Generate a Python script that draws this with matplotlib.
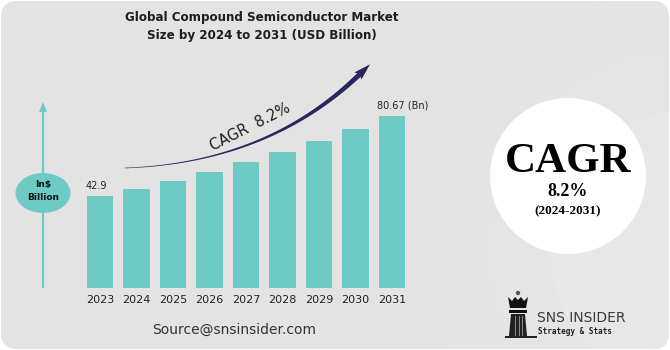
import matplotlib
matplotlib.use("Agg")
import matplotlib.pyplot as plt
import numpy as np
from matplotlib.patches import FancyBboxPatch, Ellipse, Circle, Polygon, Rectangle

years = ["2023", "2024", "2025", "2026", "2027", "2028", "2029", "2030", "2031"]
market_size = [42.9, 46.4, 50.2, 54.4, 59.1, 63.8, 69.0, 74.6, 80.67]
first_label = "42.9"
last_label = "80.67 (Bn)"

W, H = 670, 350
TEAL = "#6ecac4"
NAVY = "#29265e"

fig = plt.figure(figsize=(W / 100, H / 100), dpi=100)
fig.patch.set_facecolor("white")

# background card
bg = fig.add_axes([0, 0, 1, 1], zorder=0)
bg.set_xlim(0, W)
bg.set_ylim(H, 0)
bg.axis("off")
bg.add_patch(FancyBboxPatch((1, 1), W - 2, H - 2, boxstyle="round,pad=0,rounding_size=16",
                            facecolor="#e3e3e3", edgecolor="none"))
for r, a in [(260, 0.07), (200, 0.07), (140, 0.08)]:
    bg.add_patch(Circle((690, 250), r, facecolor="white", alpha=a, edgecolor="none"))

# bars
ax = fig.add_axes([81.75 / W, 62 / H, 328.5 / W, 192 / H], zorder=1)
ax.patch.set_alpha(0)
x = np.arange(len(years))
ax.bar(x, market_size, width=0.72, color=TEAL)
ax.set_xlim(-0.5, len(years) - 0.5)
ax.set_ylim(0, 90)
ax.set_xticks(x)
ax.set_xticklabels(years, fontsize=8, color="#222222")
ax.tick_params(axis="x", length=0, pad=5)
ax.set_yticks([])
for s in ax.spines.values():
    s.set_visible(False)
ax.text(x[0] - 0.1, market_size[0] + 2.5, first_label, ha="center", va="bottom",
        fontsize=7, color="#222222")
ax.text(x[-1] + 0.3, market_size[-1] + 2.5, last_label, ha="center", va="bottom",
        fontsize=7, color="#222222")

# overlay in pixel coords
ov = fig.add_axes([0, 0, 1, 1], zorder=2)
ov.set_xlim(0, W)
ov.set_ylim(H, 0)
ov.axis("off")
ov.patch.set_alpha(0)

ov.text(262, 17, "Global Compound Semiconductor Market", ha="center", va="center",
        fontsize=8.6, fontweight="bold", color="#1e1e1e")
ov.text(262, 36, "Size by 2024 to 2031 (USD Billion)", ha="center", va="center",
        fontsize=8.6, fontweight="bold", color="#1e1e1e")

# growth arrow (tapered curve)
p0, p1, p2 = np.array([125, 168]), np.array([268, 163]), np.array([360, 74])
t = np.linspace(0, 1, 80)[:, None]
pts = (1 - t) ** 2 * p0 + 2 * (1 - t) * t * p1 + t ** 2 * p2
d = 2 * (1 - t) * (p1 - p0) + 2 * t * (p2 - p1)
n = np.column_stack([-d[:, 1], d[:, 0]]) / np.linalg.norm(d, axis=1)[:, None]
hw = 0.3 + 2.2 * t[:, 0] ** 1.5
upper = pts + n * hw[:, None]
lower = pts - n * hw[:, None]
ov.add_patch(Polygon(np.vstack([upper, lower[::-1]]), closed=True, facecolor=NAVY, edgecolor="none"))
u = (p2 - p1) / np.linalg.norm(p2 - p1)
nn = np.array([-u[1], u[0]])
tip = p2 + u * 14
back = p2 - u * 3
ov.add_patch(Polygon([tip, back + nn * 5, p2, back - nn * 5], closed=True,
                     facecolor=NAVY, edgecolor="none"))
ov.text(250, 127, "CAGR  8.2%", ha="center", va="center", rotation=27,
        fontsize=10.5, color="#1e1e1e", rotation_mode="anchor")

# left axis with unit badge
ov.plot([43, 43], [110, 288], color=TEAL, lw=1.6, solid_capstyle="butt")
ov.add_patch(Polygon([[43, 102], [39, 112], [47, 112]], closed=True, facecolor=TEAL, edgecolor="none"))
ov.add_patch(Ellipse((43, 193), 55, 40, facecolor=TEAL, edgecolor="none"))
ov.text(43, 184, "In$", ha="center", va="center", fontsize=6.5, fontweight="bold", color="#111111")
ov.text(43, 198, "Billion", ha="center", va="center", fontsize=6.5, fontweight="bold", color="#111111")

ov.text(234, 330, "Source@snsinsider.com", ha="center", va="center", fontsize=10,
        color="#333333")

# CAGR badge
ov.add_patch(Circle((568, 176), 78, facecolor="white", edgecolor="none"))
ov.text(568, 162, "CAGR", ha="center", va="center", fontsize=31, fontweight="heavy",
        family="Liberation Serif", color="black")
ov.text(568, 192, "8.2%", ha="center", va="center", fontsize=13, fontweight="bold",
        family="Liberation Serif", color="black")
ov.text(568, 211, "(2024-2031)", ha="center", va="center", fontsize=9.5, fontweight="bold",
        family="Liberation Serif", color="black")

# logo
ov.add_patch(Circle((518, 293), 2.2, facecolor="#555555", edgecolor="none"))
ov.add_patch(Polygon([[508, 297], [512, 301], [515, 297], [518, 300], [521, 297], [524, 301],
                      [528, 297], [526, 308], [510, 308]], closed=True,
                     facecolor="#111111", edgecolor="none"))
ov.add_patch(Rectangle((509, 310), 18, 2.5, facecolor="#111111", edgecolor="none"))
ov.add_patch(Polygon([[511, 314], [525, 314], [527, 336], [509, 336]], closed=True,
                     facecolor="#222222", edgecolor="none"))
for xs in [515, 518.5, 522]:
    ov.add_patch(Rectangle((xs, 316), 1.2, 20, facecolor="#8a8a8a", edgecolor="none"))
ov.add_patch(Rectangle((505, 336), 32, 2.2, facecolor="#222222", edgecolor="none"))
ov.text(537, 318, "SNS INSIDER", ha="left", va="center", fontsize=10, color="#3a3a3a")
ov.text(538, 332, "Strategy & Stats", ha="left", va="center", fontsize=5.5, color="#222222",
        family="DejaVu Sans Mono", fontweight="bold")

fig.savefig("out.png", dpi=100)
